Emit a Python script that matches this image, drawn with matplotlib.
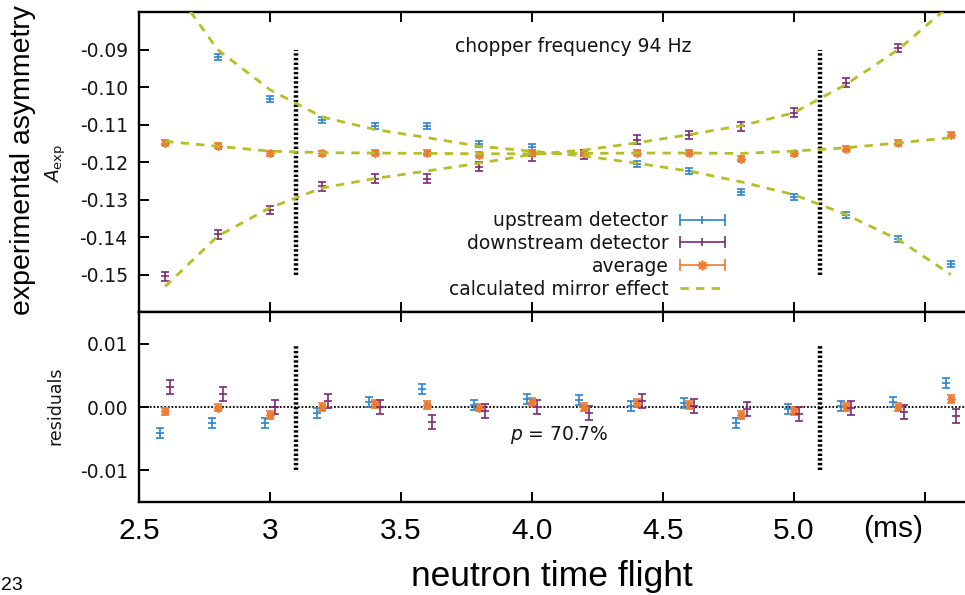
import numpy as np
import matplotlib
matplotlib.use('Agg')
import matplotlib.pyplot as plt
from matplotlib.lines import Line2D
from matplotlib.legend_handler import HandlerBase

plt.rcParams['font.family'] = ['DejaVu Sans']
plt.rcParams['axes.unicode_minus'] = False
plt.rcParams['mathtext.fontset'] = 'dejavusans'

# time of flight bins (ms)
t = [2.6, 2.8, 3.0, 3.2, 3.4, 3.6, 3.8, 4.0, 4.2, 4.4, 4.6, 4.8, 5.0, 5.2, 5.4, 5.6]

# measured asymmetry
a_up = [-0.0746, -0.0919, -0.1031, -0.1087, -0.1105, -0.1105, -0.1151, -0.1159,
        -0.1177, -0.1204, -0.1223, -0.1279, -0.1292, -0.1340, -0.1404, -0.1471]
a_down = [-0.1505, -0.1393, -0.1327, -0.1265, -0.1244, -0.1244, -0.1212, -0.1185,
          -0.1180, -0.1140, -0.1127, -0.1105, -0.1068, -0.0988, -0.0895, -0.0780]
a_avg = [-0.1148, -0.1156, -0.1177, -0.1177, -0.1175, -0.1175, -0.1180, -0.1175,
         -0.1177, -0.1175, -0.1175, -0.1191, -0.1177, -0.1164, -0.1148, -0.1127]
err_up = 0.0008
err_down = 0.0011
err_avg = 0.0006

# calculated mirror effect
fit_up = [-0.0705, -0.0900, -0.1007, -0.1080, -0.1113, -0.1135, -0.1158, -0.1171,
          -0.1184, -0.1203, -0.1224, -0.1253, -0.1287, -0.1340, -0.1407, -0.1500]
fit_down = [-0.1532, -0.1398, -0.1322, -0.1269, -0.1244, -0.1224, -0.1203, -0.1180,
            -0.1168, -0.1149, -0.1127, -0.1103, -0.1069, -0.0993, -0.0900, -0.0780]
fit_avg = [-0.1145, -0.1158, -0.1171, -0.1175, -0.1176, -0.1177, -0.1178, -0.1178,
           -0.1177, -0.1176, -0.1176, -0.1177, -0.1171, -0.1162, -0.1149, -0.1135]

# residuals
res_up = [-0.0041, -0.0025, -0.0025, -0.0010, 0.0008, 0.0029, 0.0003, 0.0013,
          0.0011, 0.0002, 0.0006, -0.0025, -0.0003, 0.0002, 0.0008, 0.0038]
res_avg = [-0.0007, -0.0001, -0.0013, 0.0000, 0.0005, 0.0003, -0.0001, 0.0008,
           0.0000, 0.0006, 0.0003, -0.0013, -0.0006, 0.0000, 0.0000, 0.0013]
res_down = [0.0032, 0.0021, 0.0000, 0.0010, 0.0000, -0.0024, -0.0007, 0.0000,
            -0.0009, 0.0009, 0.0002, -0.0003, -0.0011, -0.0002, -0.0008, -0.0014]

chopper_edges = [3.1, 5.1]
xtick_pos = [2.5, 3.0, 3.5, 4.0, 4.5, 5.0, 5.5]
xtick_lab = ['2.5', '3', '3.5', '4.0', '4.5', '5.0', '']
ytick_top = [-0.09, -0.10, -0.11, -0.12, -0.13, -0.14, -0.15]
ytick_res = [0.01, 0.0, -0.01]

c_up = '#2a84d2'
c_down = '#7e2a76'
c_avg = '#ee7b30'
c_fit = '#b5bf24'
c_txt = '#141414'
star = (8, 2, 0)


class ErrKey(HandlerBase):
    # gnuplot style key sample: bar with end caps and a mark in the middle
    def create_artists(self, legend, orig_handle, xdescent, ydescent,
                       width, height, fontsize, trans):
        y = height / 2.0 - ydescent
        x0, x1 = -xdescent, width - xdescent
        c = orig_handle.get_color()
        bar = Line2D([x0, x1], [y, y], color=c, lw=1.2, transform=trans)
        caps = Line2D([x0, x1], [y, y], ls='none', marker='|', ms=9,
                      mew=1.2, color=c, transform=trans)
        mid = Line2D([(x0 + x1) / 2], [y], ls='none', marker=orig_handle.get_marker(),
                     ms=orig_handle.get_markersize(), mew=1.2, color=c, transform=trans)
        return [bar, caps, mid]


fig = plt.figure(figsize=(9.65, 5.95), dpi=100)
ax = fig.add_axes([0.1440, 0.4756, 0.8684, 0.5042])
axr = fig.add_axes([0.1440, 0.1563, 0.8684, 0.3193])

ebkw = dict(ls='none', elinewidth=1.2, capsize=3, capthick=1.2, mew=1.2)
ax.errorbar(t, a_up, yerr=err_up, color=c_up, marker='_', ms=6, zorder=3, **ebkw)
ax.errorbar(t, a_down, yerr=err_down, color=c_down, marker='_', ms=6, zorder=3, **ebkw)
ax.errorbar(t, a_avg, yerr=err_avg, color=c_avg, marker=star, ms=6, zorder=3, **ebkw)
dash = (0, (3.0, 2.6))
for f in (fit_up, fit_down, fit_avg):
    ax.plot(t, f, color=c_fit, lw=2, ls=dash, zorder=4)
edge_style = (0, (0.55, 0.5))
ax.vlines(chopper_edges, -0.15, -0.09, color='black', lw=3.2, linestyles=edge_style, zorder=2)

ax.text(4.157, -0.0892, 'chopper frequency 94 Hz', fontsize=13.5, color=c_txt,
        ha='center', va='center')

h_up = Line2D([], [], color=c_up, marker='|', ms=6)
h_down = Line2D([], [], color=c_down, marker='|', ms=6)
h_avg = Line2D([], [], color=c_avg, marker=star, ms=7)
h_fit = Line2D([], [], color=c_fit, lw=2, ls=dash)
ax.legend([h_up, h_down, h_avg, h_fit],
          ['upstream detector', 'downstream detector', 'average', 'calculated mirror effect'],
          handler_map={h_up: ErrKey(), h_down: ErrKey(), h_avg: ErrKey()},
          loc='lower right', bbox_to_anchor=(0.699, 0.045), frameon=False,
          markerfirst=False, fontsize=13.5, labelspacing=0.2, handlelength=2.4,
          handletextpad=0.6, borderpad=0, borderaxespad=0, labelcolor=c_txt)

# residual panel, detectors shifted slightly so the bars do not overlap
t_arr = np.array(t)
axr.errorbar(t_arr - 0.02, res_up, yerr=err_up, color=c_up, marker='_', ms=6, zorder=3, **ebkw)
axr.errorbar(t_arr, res_avg, yerr=err_avg, color=c_avg, marker=star, ms=6, zorder=3, **ebkw)
axr.errorbar(t_arr + 0.02, res_down, yerr=err_down, color=c_down, marker='_', ms=6, zorder=3, **ebkw)
axr.axhline(0, color='black', lw=1.3, ls=(0, (1, 1)), zorder=2)
axr.vlines(chopper_edges, -0.01, 0.01, color='black', lw=3.2, linestyles=edge_style, zorder=2)
axr.text(4.105, -0.0044, r'$p$ = 70.7%', fontsize=13.5, color=c_txt, ha='center', va='center')

for a in (ax, axr):
    a.set_xlim(2.5, 5.7)
    a.set_xticks(xtick_pos)
    for s in a.spines.values():
        s.set_linewidth(1.7)
    a.spines['right'].set_visible(False)
    a.tick_params(axis='both', direction='in', length=7, width=1.4, top=True,
                  right=False, labelsize=13.5, labelcolor=c_txt, pad=8)

ax.set_ylim(-0.16, -0.08)
ax.set_yticks(ytick_top)
ax.set_yticklabels(['%.2f' % v for v in ytick_top])
ax.tick_params(axis='x', labelbottom=False)

axr.set_ylim(-0.015, 0.015)
axr.set_yticks(ytick_res)
axr.set_yticklabels(['%.2f' % v for v in ytick_res])
axr.set_xticklabels(xtick_lab, fontsize=21.5, family='Liberation Sans', color='black')
axr.tick_params(axis='x', pad=10.8)

fig.text(0.0238, 0.731, 'experimental asymmetry', rotation=90, ha='center', va='center',
         fontsize=20.5, family='Liberation Sans', color='black')
fig.text(0.058, 0.725, r'$A_{\rm exp}$', rotation=90, ha='center', va='center',
         fontsize=13.5, color=c_txt)
fig.text(0.057, 0.3176, 'residuals', rotation=90, ha='center', va='center',
         fontsize=12.5, color=c_txt)
fig.text(0.5715, 0.003, 'neutron time flight', ha='center', va='bottom',
         fontsize=25.5, family='Liberation Sans', color='black')
fig.text(0.9254, 0.0975, '(ms)', ha='center', va='baseline',
         fontsize=21.5, family='Liberation Sans', color='black')
fig.text(0.001, 0.001, '23', ha='left', va='bottom',
         fontsize=14, family='Liberation Sans', color='black')

fig.savefig('out.png', dpi=100)
